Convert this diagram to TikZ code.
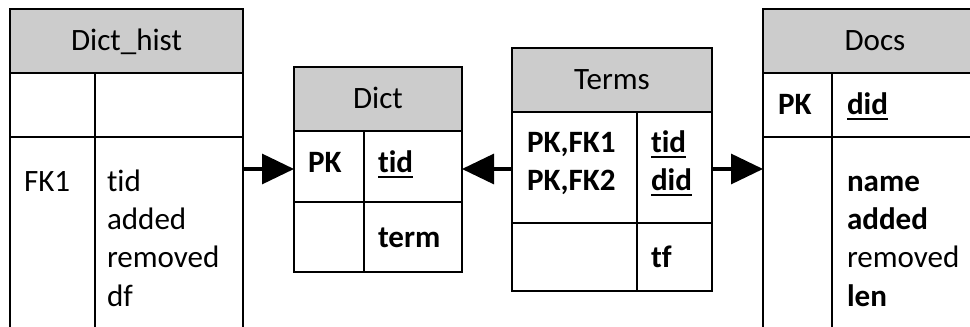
\documentclass[tikz,border=0pt]{standalone}
\usepackage{fontspec}
\setmainfont{Carlito}[Ligatures=NoCommon]
\usetikzlibrary{arrows.meta}
\newdimen\px \px=0.75pt
\definecolor{hdrgray}{RGB}{204,204,204}
% underlined key column name
\newcommand\keyfield[1]{\setbox0\hbox{#1}\rlap{\vrule height -2.6pt depth 4.1pt width \wd0}\box0}
\newcommand\tabfont{\fontsize{23.3pt}{28.5pt}\selectfont}
\tikzset{
  cell/.style={draw, line width=1.5pt, inner sep=0pt, outer sep=0pt, anchor=north west},
  hdr/.style={cell, fill=hdrgray, text height=14.7pt, text depth=0pt},
  % multi-line texts are placed by the baseline of their last line
  txt/.style={anchor=base west, inner sep=0pt, outer sep=0pt, align=left},
  fk/.style={line width=2.4pt, -{Triangle[length=24pt, width=22.5pt]}}
}
\begin{document}
\begin{tikzpicture}[x={(0.75pt,0)}, y={(0,-0.75pt)}, font=\tabfont]
\path[use as bounding box, clip] (0,0) rectangle (970,327);
\fill[white] (0,0) rectangle (970,327);

% Dict_hist
\node[hdr, minimum width=233\px, minimum height=64\px] (dh-h) at (10,9) {Dict\_hist};
\node[cell, minimum width=85\px, minimum height=64\px] (dh-k1) at (10,73) {};
\node[cell, minimum width=148\px, minimum height=64\px] (dh-f1) at (95,73) {};
\node[cell, minimum width=85\px, minimum height=220\px] (dh-k2) at (10,137) {};
\node[cell, minimum width=148\px, minimum height=220\px] (dh-f2) at (95,137) {};
\node[txt] (dh-fk) at (24,192) {FK1};
\node[txt] (dh-cols) at (107,306) {tid\\added\\removed\\df};

% Dict
\node[hdr, minimum width=168\px, minimum height=64\px] (d-h) at (294,67) {Dict};
\node[cell, minimum width=70\px, minimum height=71\px] (d-k1) at (294,131) {};
\node[cell, minimum width=98\px, minimum height=71\px] (d-f1) at (364,131) {};
\node[cell, minimum width=70\px, minimum height=70\px] (d-k2) at (294,202) {};
\node[cell, minimum width=98\px, minimum height=70\px] (d-f2) at (364,202) {};
\node[txt, font=\tabfont\bfseries] (d-pk) at (308,173) {PK};
\node[txt, font=\tabfont\bfseries] (d-tid) at (378,173) {\keyfield{tid}};
\node[txt, font=\tabfont\bfseries] (d-term) at (378,248) {term};

% Terms
\node[hdr, minimum width=200\px, minimum height=64\px] (t-h) at (512,48) {Terms};
\node[cell, minimum width=125\px, minimum height=111\px] (t-k1) at (512,112) {};
\node[cell, minimum width=75\px, minimum height=111\px] (t-f1) at (637,112) {};
\node[cell, minimum width=125\px, minimum height=68\px] (t-k2) at (512,223) {};
\node[cell, minimum width=75\px, minimum height=68\px] (t-f2) at (637,223) {};
\node[txt, font=\tabfont\bfseries] (t-keys) at (527,191) {PK,FK1\\PK,FK2};
\node[txt, font=\tabfont\bfseries] (t-ids) at (651,191) {\keyfield{tid}\\\keyfield{did}};
\node[txt, font=\tabfont\bfseries] (t-tf) at (651,268) {tf};

% Docs
\node[hdr, minimum width=224\px, minimum height=64\px] (dc-h) at (763,9) {Docs};
\node[cell, minimum width=69\px, minimum height=64\px] (dc-k1) at (763,73) {};
\node[cell, minimum width=155\px, minimum height=64\px] (dc-f1) at (832,73) {};
\node[cell, minimum width=69\px, minimum height=220\px] (dc-k2) at (763,137) {};
\node[cell, minimum width=155\px, minimum height=220\px] (dc-f2) at (832,137) {};
\node[txt, font=\tabfont\bfseries] (dc-pk) at (778,115) {PK};
\node[txt, font=\tabfont\bfseries] (dc-did) at (847,115) {\keyfield{did}};
\node[txt] (dc-cols) at (847,306) {{\bfseries name}\\{\bfseries added}\\removed\\{\bfseries len}};

% foreign key references
\coordinate (ay) at (0,169);
\draw[fk] (dh-f2.east |- ay) -- (d-k1.west |- ay);
\draw[fk] (t-k1.west |- ay) -- (d-f1.east |- ay);
\draw[fk] (t-f1.east |- ay) -- (dc-k2.west |- ay);
\end{tikzpicture}
\end{document}
